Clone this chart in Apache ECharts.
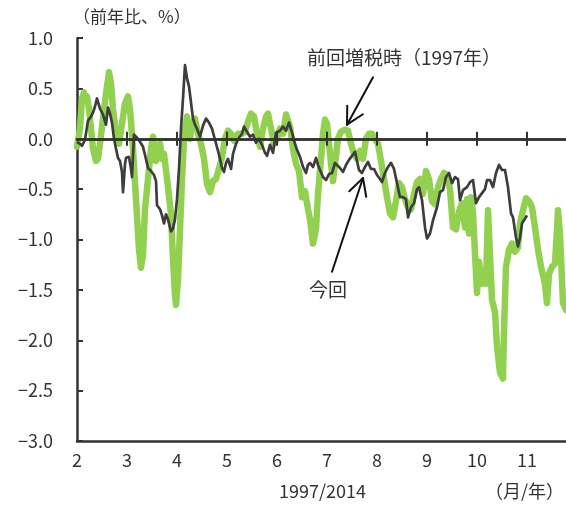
<!DOCTYPE html>
<html>
<head>
<meta charset="utf-8">
<script src="https://cdn.jsdelivr.net/npm/echarts@6/dist/echarts.min.js"></script>
<style>
  html, body { margin: 0; padding: 0; background: #fff; }
  #chart { width: 566px; height: 505px; }
</style>
</head>
<body>
<div id="chart"></div>
<script>
// Month ticks on the x axis (months of the year, 1997 / 2014)
const monthTicks = [2, 3, 4, 5, 6, 7, 8, 9, 10, 11];
const xMin = 2, xMax = 11.78;
const yMin = -3, yMax = 1, yStep = 0.5;

// 前回増税時（1997年）: year-on-year %, [month, value]
const prev1997 = [
  [2.00,-0.08],[2.06,0.10],[2.10,0.40],[2.14,0.46],[2.18,0.38],[2.20,0.42],[2.24,0.30],[2.28,0.10],
  [2.32,-0.10],[2.38,-0.22],[2.42,-0.20],[2.46,-0.05],[2.52,0.20],[2.58,0.45],[2.64,0.66],[2.68,0.55],
  [2.72,0.30],[2.78,0.05],[2.84,-0.05],[2.90,0.15],[2.96,0.35],[3.02,0.42],[3.06,0.30],[3.12,-0.10],
  [3.18,-0.60],[3.24,-1.10],[3.28,-1.28],[3.32,-1.15],[3.36,-0.70],[3.42,-0.40],[3.48,-0.10],[3.52,0.02],
  [3.58,-0.22],[3.62,-0.08],[3.66,-0.05],[3.70,-0.20],[3.74,-0.15],[3.82,-0.48],[3.88,-0.75],[3.92,-1.20],
  [3.96,-1.55],[3.98,-1.65],[4.02,-1.40],[4.06,-0.90],[4.10,-0.40],[4.14,0.00],[4.20,0.22],[4.26,0.00],
  [4.30,0.15],[4.36,0.20],[4.42,0.05],[4.48,-0.05],[4.54,-0.20],[4.60,-0.45],[4.66,-0.53],[4.72,-0.42],
  [4.78,-0.40],[4.84,-0.30],[4.90,-0.18],[4.96,0.00],[5.02,0.08],[5.08,0.05],[5.14,-0.02],[5.22,0.05],
  [5.30,0.05],[5.36,0.07],[5.42,0.17],[5.48,0.25],[5.54,0.22],[5.60,0.05],[5.66,-0.08],[5.72,0.10],
  [5.78,0.22],[5.82,0.25],[5.88,0.10],[5.94,-0.05],[6.00,0.00],[6.06,0.10],[6.12,0.05],[6.18,0.24],
  [6.22,0.25],[6.26,0.12],[6.32,-0.10],[6.38,-0.25],[6.44,-0.32],[6.50,-0.58],[6.56,-0.52],[6.62,-0.70],
  [6.66,-0.80],[6.72,-1.04],[6.78,-0.90],[6.82,-0.55],[6.88,-0.20],[6.92,0.05],[6.96,0.19],[7.00,0.15],
  [7.06,-0.15],[7.12,-0.42],[7.16,-0.25],[7.22,0.00],[7.28,0.07],[7.36,0.09],[7.42,0.08],[7.48,-0.05],
  [7.54,-0.15],[7.60,-0.20],[7.66,-0.12],[7.72,-0.20],[7.78,0.00],[7.84,0.05],[7.90,0.05],[7.96,0.00],
  [8.02,-0.05],[8.08,-0.22],[8.14,-0.40],[8.20,-0.58],[8.26,-0.74],[8.32,-0.78],[8.38,-0.62],[8.44,-0.44],
  [8.50,-0.48],[8.56,-0.60],[8.62,-0.68],[8.68,-0.70],[8.74,-0.55],[8.80,-0.43],[8.86,-0.40],[8.92,-0.55],
  [8.98,-0.32],[9.04,-0.40],[9.10,-0.62],[9.16,-0.65],[9.22,-0.48],[9.28,-0.40],[9.34,-0.34],[9.40,-0.36],
  [9.46,-0.50],[9.52,-0.88],[9.58,-0.90],[9.64,-0.72],[9.70,-0.64],[9.76,-0.88],[9.80,-0.60],[9.84,-0.94],
  [9.88,-0.58],[9.92,-0.74],[9.96,-1.14],[10.00,-1.53],[10.04,-1.22],[10.10,-1.44],[10.14,-1.32],[10.18,-1.44],
  [10.22,-0.71],[10.26,-0.71],[10.30,-1.60],[10.36,-1.72],[10.40,-2.06],[10.46,-2.32],[10.52,-2.38],[10.54,-1.90],
  [10.58,-1.27],[10.64,-1.10],[10.70,-1.04],[10.76,-1.12],[10.82,-1.08],[10.86,-0.84],[10.92,-0.71],[10.98,-0.59],
  [11.04,-0.62],[11.10,-0.68],[11.16,-0.88],[11.22,-1.10],[11.28,-1.27],[11.32,-1.28],[11.36,-1.44],[11.40,-1.63],
  [11.44,-1.34],[11.50,-1.27],[11.56,-1.24],[11.60,-0.90],[11.62,-0.71],[11.66,-0.95],[11.72,-1.63],[11.78,-1.70]
];

// 今回（2014年）: year-on-year %, [month, value]
const now2014 = [
  [2.00,-0.03],[2.06,-0.05],[2.10,-0.07],[2.16,-0.01],[2.22,0.18],[2.28,0.22],[2.32,0.26],[2.36,0.32],
  [2.40,0.40],[2.46,0.30],[2.52,0.24],[2.58,0.14],[2.62,0.31],[2.66,0.25],[2.70,0.16],[2.74,0.00],
  [2.78,-0.10],[2.82,-0.19],[2.86,-0.22],[2.90,-0.33],[2.92,-0.53],[2.96,-0.25],[2.98,-0.19],[3.04,-0.18],
  [3.08,-0.30],[3.10,-0.38],[3.14,0.04],[3.20,0.01],[3.26,-0.03],[3.32,-0.08],[3.36,-0.16],[3.42,-0.29],
  [3.48,-0.32],[3.54,-0.36],[3.58,-0.42],[3.60,-0.66],[3.66,-0.70],[3.70,-0.76],[3.74,-0.84],[3.78,-0.75],
  [3.82,-0.80],[3.88,-0.92],[3.92,-0.89],[3.96,-0.80],[4.00,-0.60],[4.04,-0.30],[4.08,0.10],[4.12,0.40],
  [4.16,0.73],[4.20,0.60],[4.24,0.52],[4.28,0.36],[4.32,0.20],[4.36,0.14],[4.40,0.10],[4.46,0.02],
  [4.52,0.13],[4.58,0.20],[4.64,0.16],[4.70,0.10],[4.76,-0.01],[4.82,-0.12],[4.86,-0.20],[4.90,-0.29],
  [4.94,-0.33],[4.98,-0.24],[5.02,-0.20],[5.08,-0.30],[5.12,-0.15],[5.18,-0.05],[5.24,0.01],[5.30,0.05],
  [5.34,0.12],[5.40,0.07],[5.46,0.02],[5.52,0.04],[5.58,-0.04],[5.64,0.00],[5.70,-0.06],[5.76,-0.14],
  [5.80,-0.17],[5.86,-0.06],[5.92,-0.14],[5.98,0.06],[6.06,0.08],[6.12,0.12],[6.18,0.08],[6.24,0.16],
  [6.30,0.06],[6.36,-0.05],[6.40,-0.11],[6.46,-0.18],[6.52,-0.28],[6.58,-0.34],[6.62,-0.26],[6.66,-0.24],
  [6.72,-0.28],[6.78,-0.19],[6.82,-0.26],[6.86,-0.31],[6.92,-0.38],[6.98,-0.41],[7.04,-0.35],[7.10,-0.34],
  [7.16,-0.24],[7.20,-0.23],[7.26,-0.29],[7.32,-0.33],[7.38,-0.26],[7.44,-0.21],[7.50,-0.17],[7.56,-0.13],
  [7.60,-0.13],[7.64,-0.31],[7.70,-0.34],[7.76,-0.28],[7.82,-0.23],[7.88,-0.30],[7.94,-0.30],[8.00,-0.36],
  [8.06,-0.40],[8.10,-0.43],[8.16,-0.34],[8.22,-0.28],[8.28,-0.24],[8.34,-0.30],[8.40,-0.44],[8.46,-0.58],
  [8.52,-0.58],[8.58,-0.60],[8.62,-0.78],[8.68,-0.68],[8.74,-0.64],[8.80,-0.50],[8.84,-0.48],[8.90,-0.61],
  [8.96,-0.88],[9.00,-0.99],[9.06,-0.94],[9.12,-0.81],[9.20,-0.68],[9.26,-0.53],[9.32,-0.51],[9.38,-0.38],
  [9.44,-0.34],[9.50,-0.44],[9.56,-0.38],[9.62,-0.40],[9.66,-0.61],[9.72,-0.51],[9.80,-0.48],[9.86,-0.43],
  [9.92,-0.41],[9.98,-0.64],[10.04,-0.58],[10.10,-0.54],[10.16,-0.50],[10.20,-0.41],[10.26,-0.41],[10.32,-0.48],
  [10.38,-0.34],[10.44,-0.26],[10.50,-0.31],[10.56,-0.31],[10.62,-0.48],[10.68,-0.74],[10.72,-0.78],[10.78,-0.98],
  [10.82,-1.07],[10.86,-0.98],[10.90,-0.84],[10.94,-0.81],[11.00,-0.76]
];

// Callout anchors in data space: [month, value]
const prevLabelAt = [8.54, 0.80];
const prevArrow = [[7.92, 0.61], [7.40, 0.14]];
const nowLabelAt = [7.02, -1.50];
const nowArrow = [[7.10, -1.32], [7.72, -0.39]];

const FONT = '"Noto Sans CJK JP", "Noto Sans", sans-serif';
const INK = '#333333';

const chart = echarts.init(document.getElementById('chart'), null, { renderer: 'canvas' });

const gridBox = { left: 77, right: 0, top: 38, bottom: 64, containLabel: false };

const option = {
  animation: false,
  backgroundColor: '#ffffff',
  grid: [Object.assign({}, gridBox), Object.assign({}, gridBox)],
  xAxis: [
    { // bottom axis with month labels
      gridIndex: 0, type: 'value', min: xMin, max: xMax, interval: 1, position: 'bottom',
      axisLine: { show: true, onZero: false, lineStyle: { color: INK, width: 2.5 } },
      axisTick: { show: false },
      splitLine: { show: false },
      axisLabel: {
        color: INK, fontSize: 18, fontFamily: FONT, margin: 10,
        customValues: monthTicks,
        formatter: v => (Number.isInteger(v) ? String(v) : '')
      }
    },
    { // zero line, ticks pointing down
      gridIndex: 0, type: 'value', min: xMin, max: xMax, interval: 1, position: 'top', z: 5,
      axisLine: { show: true, onZero: true, lineStyle: { color: INK, width: 2.5 } },
      axisTick: { show: true, inside: true, length: 7, customValues: monthTicks.slice(1), lineStyle: { color: INK, width: 2 } },
      axisLabel: { show: false },
      splitLine: { show: false }
    },
    { // zero line, ticks pointing up
      gridIndex: 1, type: 'value', min: xMin, max: xMax, interval: 1, position: 'bottom', z: 5,
      axisLine: { show: true, onZero: true, lineStyle: { color: INK, width: 2.5 } },
      axisTick: { show: true, inside: true, length: 7, customValues: monthTicks.slice(1), lineStyle: { color: INK, width: 2 } },
      axisLabel: { show: false },
      splitLine: { show: false }
    }
  ],
  yAxis: [
    {
      gridIndex: 0, type: 'value', min: yMin, max: yMax, interval: yStep,
      axisLine: { show: true, lineStyle: { color: INK, width: 2.5 } },
      axisTick: { show: true, inside: true, length: 6, lineStyle: { color: INK, width: 2 } },
      splitLine: { show: false },
      axisLabel: {
        color: INK, fontSize: 18, fontFamily: FONT, margin: 24,
        formatter: v => v.toFixed(1).replace('-', '\u2212')
      }
    },
    {
      gridIndex: 1, type: 'value', min: yMin, max: yMax, interval: yStep, show: false
    }
  ],
  series: [
    {
      name: '前回増税時（1997年）', type: 'line', xAxisIndex: 0, yAxisIndex: 0,
      data: prev1997, showSymbol: false, symbol: 'none', z: 2,
      lineStyle: { color: '#92d050', width: 6.5, join: 'round', cap: 'round' }
    },
    {
      name: '今回', type: 'line', xAxisIndex: 0, yAxisIndex: 0,
      data: now2014, showSymbol: false, symbol: 'none', z: 3,
      lineStyle: { color: '#3d3d3d', width: 2.7, join: 'round' }
    }
  ],
  graphic: [
    { type: 'text', left: 73, top: 8, style: { text: '（前年比、%）', fill: INK, font: '17px ' + FONT } },
    { type: 'text', left: 279, top: 482, style: { text: '1997/2014', fill: INK, font: '18px ' + FONT } },
    { type: 'text', right: 2, top: 482, style: { text: '（月/年）', fill: INK, font: '18px ' + FONT } }
  ]
};

chart.setOption(option);

// Callouts: arrows with open heads, positioned through the axes
function arrowParts(fromData, toData, id) {
  const p0 = chart.convertToPixel({ gridIndex: 0 }, fromData);
  const p1 = chart.convertToPixel({ gridIndex: 0 }, toData);
  const dx = p0[0] - p1[0], dy = p0[1] - p1[1];
  const len = Math.hypot(dx, dy);
  const ux = dx / len, uy = dy / len;
  const a = 28 * Math.PI / 180, h = 19;
  const rot = (s) => [ux * Math.cos(s) - uy * Math.sin(s), ux * Math.sin(s) + uy * Math.cos(s)];
  const r1 = rot(a), r2 = rot(-a);
  const style = { stroke: '#111', lineWidth: 2, lineCap: 'round' };
  return [
    { type: 'line', id: id + 'shaft', z: 20, shape: { x1: p0[0], y1: p0[1], x2: p1[0], y2: p1[1] }, style },
    { type: 'line', id: id + 'h1', z: 20, shape: { x1: p1[0], y1: p1[1], x2: p1[0] + r1[0] * h, y2: p1[1] + r1[1] * h }, style },
    { type: 'line', id: id + 'h2', z: 20, shape: { x1: p1[0], y1: p1[1], x2: p1[0] + r2[0] * h, y2: p1[1] + r2[1] * h }, style }
  ];
}

function labelAt(data, text, id) {
  const p = chart.convertToPixel({ gridIndex: 0 }, data);
  return { type: 'text', id, z: 20, x: p[0], y: p[1],
    style: { text, fill: INK, font: '19px ' + FONT, align: 'center', verticalAlign: 'middle' } };
}

chart.setOption({
  graphic: [
    ...arrowParts(prevArrow[0], prevArrow[1], 'pa'),
    ...arrowParts(nowArrow[0], nowArrow[1], 'na'),
    labelAt(prevLabelAt, '前回増税時（1997年）', 'pl'),
    labelAt(nowLabelAt, '今回', 'nl')
  ]
});
</script>
</body>
</html>
